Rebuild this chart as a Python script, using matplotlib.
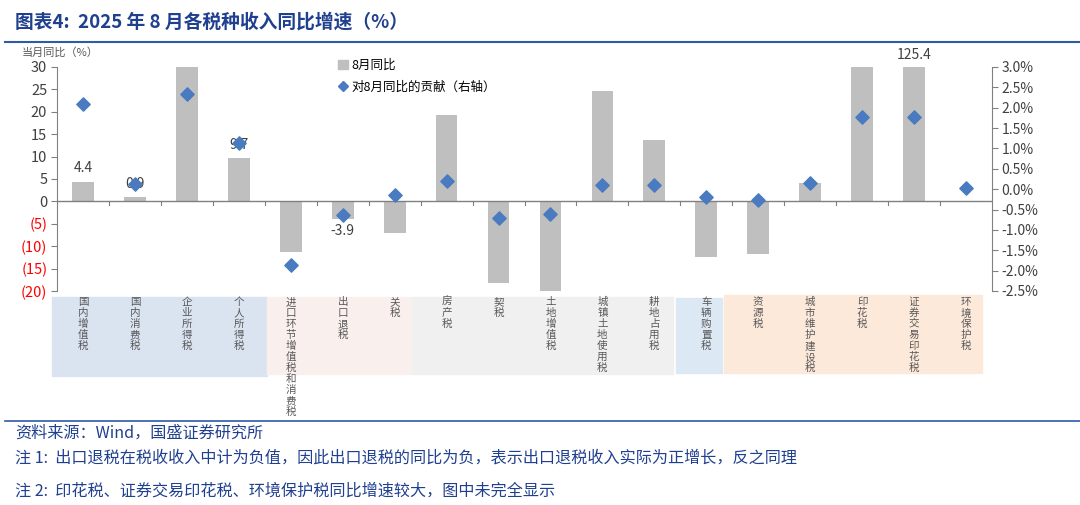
import matplotlib
matplotlib.use("Agg")
import matplotlib.pyplot as plt
import matplotlib.transforms as mtransforms
from matplotlib.patches import Rectangle
from matplotlib.lines import Line2D
import numpy as np

plt.rcParams['font.family'] = ['Noto Sans CJK SC', 'DejaVu Sans']

categories = ['国内增值税', '国内消费税', '企业所得税', '个人所得税', '进口环节增值税和消费税',
              '出口退税', '关税', '房产税', '契税', '土地增值税', '城镇土地使用税', '耕地占用税',
              '车辆购置税', '资源税', '城市维护建设税', '印花税', '证券交易印花税', '环境保护税']
yoy = [4.4, 0.9, 30.0, 9.7, -11.2, -3.9, -7.1, 19.2, -18.3, -20.0, 24.6, 13.8,
       -12.3, -11.8, 4.2, 60.0, 125.4, 0.0]
contrib = [2.09, 0.12, 2.33, 1.13, -1.87, -0.64, -0.15, 0.20, -0.71, -0.61, 0.10, 0.10,
           -0.20, -0.27, 0.15, 1.77, 1.77, 0.02]
labeled = {0: '4.4', 1: '0.9', 3: '9.7', 5: '-3.9', 16: '125.4'}
left_ticks = [30, 25, 20, 15, 10, 5, 0, -5, -10, -15, -20]
right_ticks = [3.0, 2.5, 2.0, 1.5, 1.0, 0.5, 0.0, -0.5, -1.0, -1.5, -2.0, -2.5]
# group background boxes (pixel extents: x0, x1, y0, y1) and colours
group_boxes = [(52, 267, 297, 376), (267, 413, 297, 374), (413, 673, 297, 374),
               (676, 722, 298, 373), (724, 982, 295, 373)]
group_colors = ['#dae3f0', '#f9efed', '#f0f0f0', '#dde8f5', '#fde9da']

W, H = 1080, 505
fig = plt.figure(figsize=(W / 100, H / 100), dpi=100)
ax = fig.add_axes([57 / W, 1 - 291 / H, (992 - 57) / W, (291 - 67) / H])
x = np.arange(len(categories))

ax.bar(x, yoy, width=0.42, color='#bfbfbf', zorder=2, label='8月同比')
ax.set_xlim(-0.5, len(categories) - 0.5)
ax.set_ylim(-20, 30)
ax.axhline(0, color='#808080', lw=1, zorder=3)

for s in ['top', 'right', 'bottom']:
    ax.spines[s].set_visible(False)
ax.spines['left'].set_color('#808080')
ax.set_yticks(left_ticks)
ax.set_yticklabels([str(t) if t >= 0 else '(%d)' % (-t) for t in left_ticks], fontsize=10.5)
for lab, t in zip(ax.get_yticklabels(), left_ticks):
    lab.set_color('#ff0000' if t < 0 else '#404040')
ax.tick_params(axis='y', length=4, color='#808080', pad=3)
ax.set_xticks([])
# boundary ticks on zero line
for b in np.arange(0.5, len(categories) - 0.5, 1.0):
    ax.plot([b, b], [0, -0.9], color='#808080', lw=0.8, zorder=3, clip_on=False)

for i, t in labeled.items():
    v = min(yoy[i], 30)
    if yoy[i] >= 0:
        ax.text(i, v + 1.4 if yoy[i] < 30 else 30 + 1.2, t, ha='center', va='bottom', fontsize=10, color='#404040', clip_on=False)
    else:
        ax.text(i, v - 1.2, t, ha='center', va='top', fontsize=10, color='#404040')

ax2 = ax.twinx()
ax2.set_ylim(-2.5, 3.0)
ax2.scatter(x, contrib, marker='D', s=46, color='#4a7bc0', zorder=5, label='对8月同比的贡献（右轴）')
for s in ['top', 'left', 'bottom']:
    ax2.spines[s].set_visible(False)
ax2.spines['right'].set_color('#808080')
ax2.set_yticks(right_ticks)
ax2.set_yticklabels(['%.1f%%' % t for t in right_ticks], fontsize=10, color='#404040')
ax2.tick_params(axis='y', length=4, color='#808080', pad=3)

# legend
h1 = Rectangle((0, 0), 1, 1, color='#bfbfbf')
h2 = Line2D([], [], marker='D', color='#4a7bc0', ls='none', markersize=5)
fig.legend([h1, h2], ['8月同比', '对8月同比的贡献（右轴）'], loc='upper left',
           bbox_to_anchor=(333 / W, 1 - 54 / H), frameon=False, fontsize=9,
           handlelength=0.8, handletextpad=0.3, labelspacing=0.7, borderaxespad=0)

# category boxes and labels
for (x0, x1, y0, y1), c in zip(group_boxes, group_colors):
    r = Rectangle((x0 / W, 1 - y1 / H), (x1 - x0) / W, (y1 - y0) / H, transform=fig.transFigure,
                  color=c, zorder=0)
    fig.patches.append(r)
trans = mtransforms.blended_transform_factory(ax.transData, fig.transFigure)
for i, name in enumerate(categories):
    fig.text(i, 1 - 297 / H, '\n'.join(name), transform=trans, ha='center', va='top',
             fontsize=7.6, color='#595959', linespacing=1.12)

# title and decorations
fig.text(15 / W, 1 - 22 / H, '图表4:  2025 年 8 月各税种收入同比增速（%）', fontsize=13.5, fontweight='bold',
         style='italic', color='#1f3f8f', va='center', ha='left')
fig.add_artist(Line2D([5 / W, 1], [1 - 42 / H] * 2, color='#2e5aa8', lw=1.5))
fig.add_artist(Line2D([5 / W, 1], [1 - 421 / H] * 2, color='#2e5aa8', lw=1.2))
fig.text(22 / W, 1 - 52 / H, '当月同比（%）', fontsize=8, color='#595959', va='center', ha='left')

fig.text(15 / W, 1 - 433 / H, '资料来源：Wind，国盛证券研究所', fontsize=11.6, style='italic', color='#1f3f8f', va='center')
fig.text(15 / W, 1 - 458 / H, '注 1:  出口退税在税收收入中计为负值，因此出口退税的同比为负，表示出口退税收入实际为正增长，反之同理',
         fontsize=11.6, style='italic', color='#1f3f8f', va='center')
fig.text(15 / W, 1 - 491 / H, '注 2:  印花税、证券交易印花税、环境保护税同比增速较大，图中未完全显示',
         fontsize=11.6, style='italic', color='#1f3f8f', va='center')

fig.savefig('out.png', dpi=100)
